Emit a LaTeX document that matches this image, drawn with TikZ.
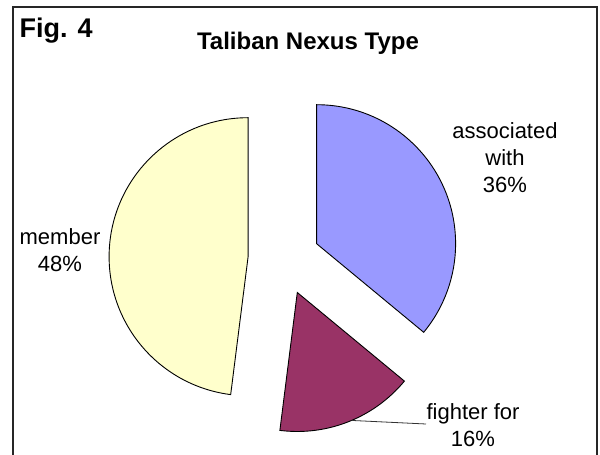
\documentclass[tikz,border=0pt]{standalone}
\usepackage{fontspec}
\setmainfont{Liberation Sans}
\usetikzlibrary{calc}
\definecolor{memberc}{HTML}{FFFFCC}
\definecolor{assocc}{HTML}{9999FF}
\definecolor{fighterc}{HTML}{993366}
\begin{document}
\begin{tikzpicture}[x=1pt,y=1pt,
  wedge/.style={draw=black,line width=0.9pt,line join=miter},
  lbl/.style={align=center,inner sep=0pt,font=\fontsize{22}{27}\selectfont},
  frame/.style={draw=black!85,line width=1.5pt}]
\useasboundingbox (0,0) rectangle (600,455);
% frame
\draw[frame] (13,-5) -- (13,448) -- (597,448) -- (597,-5);
% titles
\node[anchor=base west,inner sep=0pt,font=\fontsize{27}{30}\selectfont\bfseries] (fig) at (19.5,417) {Fig. 4};
\node[anchor=base,inner sep=0pt,font=\fontsize{24}{28}\selectfont\bfseries] (title) at (308,405.7) {Taliban Nexus Type};
% wedges
\coordinate (cm) at (248.1,198.3);
\coordinate (ca) at (316.6,211.3);
\coordinate (cf) at (297.3,162.5);
\draw[wedge,fill=memberc] (cm) -- ++(90:139) arc[start angle=90,end angle=262.8,radius=139] -- cycle;
\draw[wedge,fill=assocc] (ca) -- ++(90:139) arc[start angle=90,end angle=-39.6,radius=139] -- cycle;
\draw[wedge,fill=fighterc] (cf) -- ++(-39.6:139) arc[start angle=-39.6,end angle=-97.2,radius=139] -- cycle;
% labels
\node[lbl] (lm) at (60,204.5) {member\\48\%};
\node[lbl] (la) at (505,297) {associated\\with\\36\%};
\node[lbl] (lf) at (473,30) {fighter for\\16\%};
% leader line
\coordinate (fa) at ($(cf)+(-67:139)$);
\coordinate (fe) at (426,31);
\draw[black!80,line width=0.8pt] (fa) -- (fe);
\end{tikzpicture}
\end{document}
